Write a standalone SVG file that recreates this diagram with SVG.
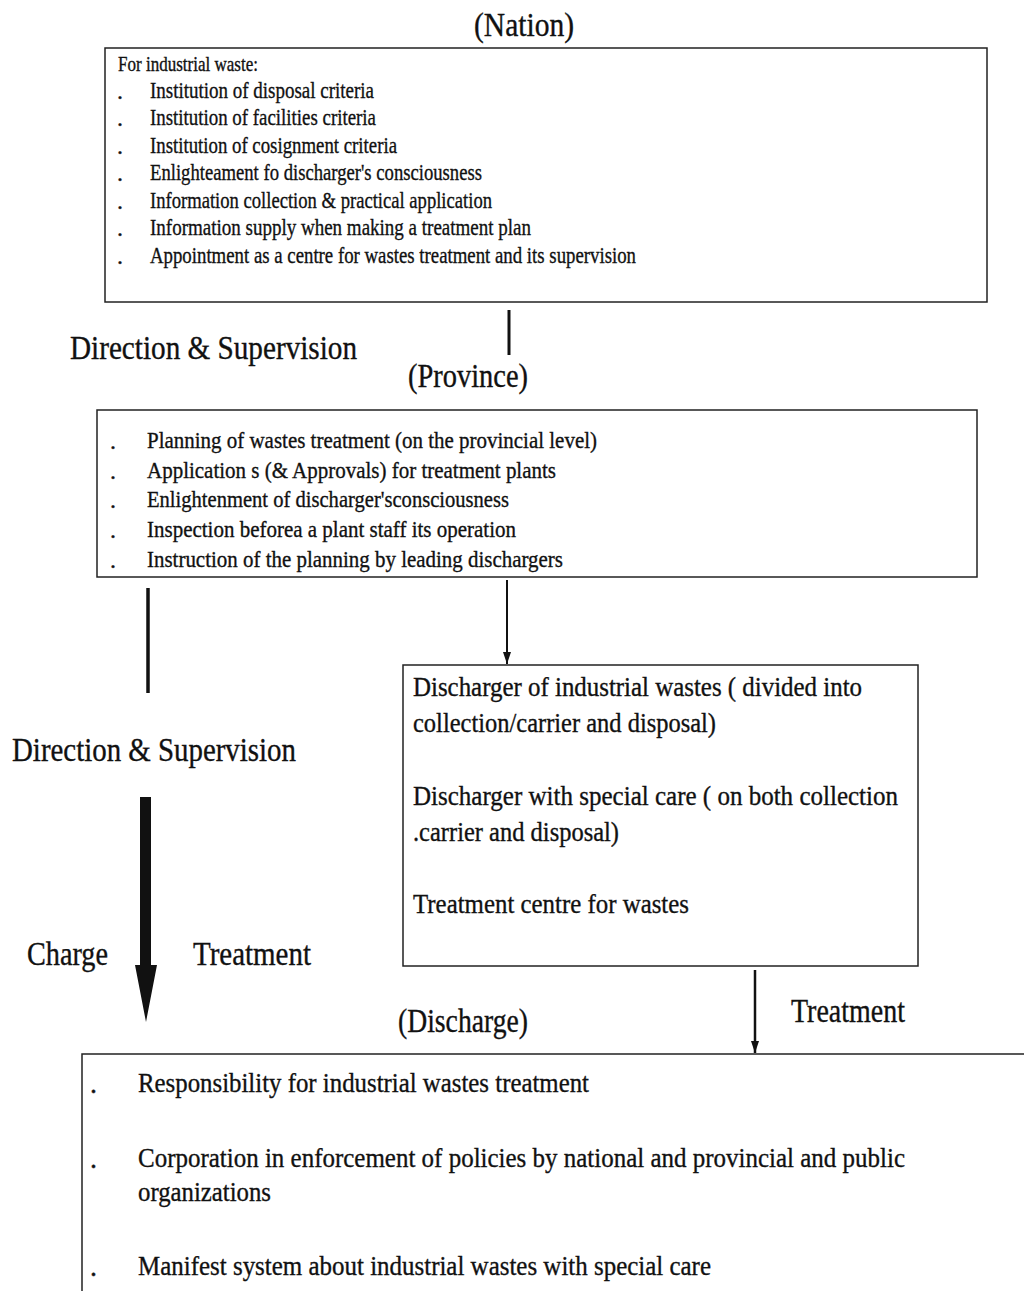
<svg xmlns="http://www.w3.org/2000/svg" width="1024" height="1291" viewBox="0 0 1024 1291">
<style>
text{font-family:"Liberation Serif","Times New Roman",serif;fill:#111;stroke:#111;stroke-width:0.35}
.box{fill:none;stroke:#222;stroke-width:1.5}
.f{font-size:21px}
.s{font-size:24px}
.m{font-size:24px}
.l{font-size:28px}
.xl{font-size:33px}
.ln{stroke:#111;fill:none}
</style>
<defs>
<marker id="ah" markerWidth="12" markerHeight="8" refX="12" refY="4" orient="auto" markerUnits="userSpaceOnUse" viewBox="0 0 12 8">
<path d="M0,0 L12,4 L0,8 Z" fill="#111"/>
</marker>
</defs>
<rect width="1024" height="1291" fill="#fff"/>

<g id="nation">
<text class="xl" x="474" y="36" textLength="100" lengthAdjust="spacingAndGlyphs">(Nation)</text>
<rect class="box" x="105" y="48" width="882" height="254"/>
<text class="f" x="118" y="71" textLength="140" lengthAdjust="spacingAndGlyphs">For industrial waste:</text>
<g class="s">
<text x="117" y="99">.</text><text x="150" y="98" textLength="224" lengthAdjust="spacingAndGlyphs">Institution of disposal criteria</text>
<text x="117" y="126">.</text><text x="150" y="125" textLength="226" lengthAdjust="spacingAndGlyphs">Institution of facilities criteria</text>
<text x="117" y="154">.</text><text x="150" y="153" textLength="247" lengthAdjust="spacingAndGlyphs">Institution of cosignment criteria</text>
<text x="117" y="181">.</text><text x="150" y="180" textLength="332" lengthAdjust="spacingAndGlyphs">Enlighteament fo discharger's consciousness</text>
<text x="117" y="209">.</text><text x="150" y="208" textLength="342" lengthAdjust="spacingAndGlyphs">Information collection &amp; practical application</text>
<text x="117" y="236">.</text><text x="150" y="235" textLength="381" lengthAdjust="spacingAndGlyphs">Information supply when making a treatment plan</text>
<text x="117" y="264">.</text><text x="150" y="263" textLength="486" lengthAdjust="spacingAndGlyphs">Appointment as a centre for wastes treatment and its supervision</text>
</g>
</g>

<g id="province">
<text class="xl" x="408" y="387" textLength="120" lengthAdjust="spacingAndGlyphs">(Province)</text>
<rect class="box" x="97" y="410" width="880" height="167"/>
<g class="m">
<text x="110" y="449">.</text><text x="147" y="448" textLength="450" lengthAdjust="spacingAndGlyphs">Planning of wastes treatment (on the provincial level)</text>
<text x="110" y="479">.</text><text x="147" y="478" textLength="409" lengthAdjust="spacingAndGlyphs">Application s (&amp; Approvals) for treatment plants</text>
<text x="110" y="508">.</text><text x="147" y="507" textLength="362" lengthAdjust="spacingAndGlyphs">Enlightenment of discharger'sconsciousness</text>
<text x="110" y="538">.</text><text x="147" y="537" textLength="369" lengthAdjust="spacingAndGlyphs">Inspection beforea a plant staff its operation</text>
<text x="110" y="568">.</text><text x="147" y="567" textLength="416" lengthAdjust="spacingAndGlyphs">Instruction of the planning by leading dischargers</text>
</g>
</g>

<g id="discharger">
<rect class="box" x="403" y="665" width="515" height="301"/>
<g class="l">
<text x="413" y="696" textLength="449" lengthAdjust="spacingAndGlyphs">Discharger of industrial wastes ( divided into</text>
<text x="413" y="732" textLength="303" lengthAdjust="spacingAndGlyphs">collection/carrier and disposal)</text>
<text x="413" y="805" textLength="485" lengthAdjust="spacingAndGlyphs">Discharger with special care ( on both collection</text>
<text x="413" y="841" textLength="206" lengthAdjust="spacingAndGlyphs">.carrier and disposal)</text>
<text x="413" y="913" textLength="276" lengthAdjust="spacingAndGlyphs">Treatment centre for wastes</text>
</g>
</g>

<g id="discharge">
<text class="xl" x="398" y="1032" textLength="130" lengthAdjust="spacingAndGlyphs">(Discharge)</text>
<path class="box" d="M1024,1054 L82,1054 L82,1291"/>
<g class="l">
<text x="90" y="1093">.</text><text x="138" y="1092" textLength="451" lengthAdjust="spacingAndGlyphs">Responsibility for industrial wastes treatment</text>
<text x="90" y="1168">.</text><text x="138" y="1167" textLength="767" lengthAdjust="spacingAndGlyphs">Corporation in enforcement of policies by national and provincial and public</text>
<text x="138" y="1201" textLength="133" lengthAdjust="spacingAndGlyphs">organizations</text>
<text x="90" y="1276">.</text><text x="138" y="1275" textLength="573" lengthAdjust="spacingAndGlyphs">Manifest system about industrial wastes with special care</text>
</g>
</g>

<g id="connectors">
<line class="ln" x1="509" y1="310" x2="509" y2="355" stroke-width="3"/>
<text class="xl" x="70" y="359" textLength="287" lengthAdjust="spacingAndGlyphs">Direction &amp; Supervision</text>
<line class="ln" x1="148" y1="588" x2="148" y2="693" stroke-width="3.5"/>
<line class="ln" x1="507" y1="580" x2="507" y2="664" stroke-width="2" marker-end="url(#ah)"/>
<text class="xl" x="12" y="761" textLength="284" lengthAdjust="spacingAndGlyphs">Direction &amp; Supervision</text>
<path d="M140,797 L151,797 L151,965 L157,965 L146,1022 L135,965 L140,965 Z" fill="#111"/>
<text class="xl" x="27" y="965" textLength="81" lengthAdjust="spacingAndGlyphs">Charge</text>
<text class="xl" x="193" y="965" textLength="118" lengthAdjust="spacingAndGlyphs">Treatment</text>
<line class="ln" x1="755" y1="970" x2="755" y2="1053" stroke-width="2.5" marker-end="url(#ah)"/>
<text class="xl" x="791" y="1022" textLength="114" lengthAdjust="spacingAndGlyphs">Treatment</text>
</g>
</svg>
